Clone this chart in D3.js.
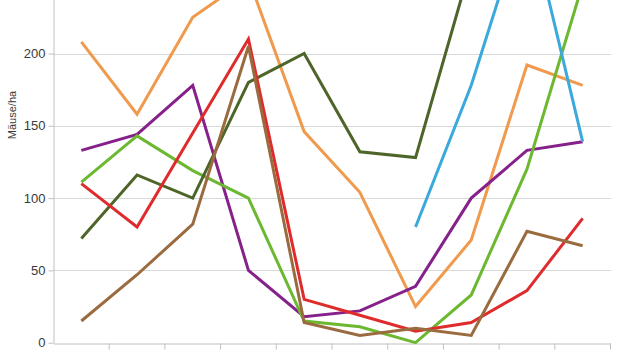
<!DOCTYPE html>
<html>
<head>
<meta charset="utf-8">
<script src="https://cdn.jsdelivr.net/npm/d3@7"></script>
<style>
    body { margin: 0; background: #fff; }
    svg { display: block; }
</style>
</head>
<body>
<div id="chart"></div>
<script>
// categories (their labels are outside the visible area, so none are drawn)
const categories = ["1", "2", "3", "4", "5", "6", "7", "8", "9", "10"];
const yTicks = [0, 50, 100, 150, 200];

// series values, Mäuse/ha (null = no value)
const orange = [208, 158, 225, 252, 146, 104, 25, 71, 192, 178];
const purple = [133, 144, 178, 50, 18, 22, 39, 100, 133, 139];
const green  = [111, 143, 119, 100, 15, 11, 0, 33, 120, 248];
const olive  = [72, 116, 100, 180, 200, 132, 128, 262, 300, 280];
const blue   = [null, null, null, null, null, null, 80, 178, 300, 139];
const red    = [110, 80, 145, 210, 30, 19, 8, 14, 36, 86];
const brown  = [15, 47, 82, 205, 14, 5, 10, 5, 77, 67];

const series = [
    {name: "orange", values: orange, color: "#f09a4e"},
    {name: "purple", values: purple, color: "#86208a"},
    {name: "green", values: green, color: "#6cb831"},
    {name: "olive", values: olive, color: "#4d6529"},
    {name: "blue", values: blue, color: "#3aa9dc"},
    {name: "red", values: red, color: "#df2b2b"},
    {name: "brown", values: brown, color: "#9a6b3f"}
];

const W = 620, H = 350;
const margin = {left: 53.5, right: 10, top: 53.5, bottom: 7.3};

const svg = d3.select("#chart").append("svg")
    .attr("width", W)
    .attr("height", H);

const x = d3.scaleBand()
    .domain(categories)
    .range([margin.left, 610.5]);

const y = d3.scaleLinear()
    .domain([0, 200])
    .range([H - margin.bottom, margin.top]);

// gridlines
svg.append("g")
    .selectAll("line")
    .data(yTicks.filter(d => d > 0))
    .enter()
    .append("line")
    .attr("x1", margin.left)
    .attr("x2", 611)
    .attr("y1", d => Math.round(y(d)) + 0.5)
    .attr("y2", d => Math.round(y(d)) + 0.5)
    .attr("stroke", "#d9d9d9")
    .attr("stroke-width", 1);

// y axis
const yAxis = d3.axisLeft(y).tickValues(yTicks).tickSize(5).tickPadding(3);
const yG = svg.append("g")
    .attr("transform", "translate(" + margin.left + ",0)")
    .call(yAxis);
yG.select(".domain").attr("stroke", "#c0c0c0").attr("d", "M0.5,-30V" + (Math.round(y(0)) + 0.5));
yG.selectAll(".tick line").attr("stroke", "#c0c0c0");
yG.selectAll("text")
    .attr("fill", "#3a3a3a")
    .style("font-family", "'Liberation Sans', Arial, sans-serif")
    .style("font-size", "13px");

// x axis (ticks only)
const xAxis = d3.axisBottom(x).tickSize(6).tickSizeOuter(0).tickFormat("");
const xG = svg.append("g")
    .attr("transform", "translate(0," + (Math.round(y(0)) + 0.5) + ")")
    .call(xAxis);
xG.select(".domain").attr("stroke", "#c0c0c0");
xG.selectAll(".tick line")
    .attr("stroke", "#c0c0c0")
    .attr("transform", "translate(" + (x.bandwidth() / 2) + ",0)");

// y label
svg.append("text")
    .attr("transform", "translate(16,115) rotate(-90)")
    .attr("text-anchor", "middle")
    .attr("fill", "#3a3a3a")
    .style("font-family", "'Liberation Sans', Arial, sans-serif")
    .style("font-size", "11px")
    .text("Mäuse/ha");

// lines
const line = d3.line()
    .defined(d => d != null)
    .x((d, i) => x(categories[i]) + x.bandwidth() / 2)
    .y(d => y(d));

svg.append("g")
    .selectAll("path")
    .data(series)
    .enter()
    .append("path")
    .attr("d", d => line(d.values))
    .attr("fill", "none")
    .attr("stroke", d => d.color)
    .attr("stroke-width", 3)
    .attr("stroke-linejoin", "miter");
</script>
</body>
</html>
